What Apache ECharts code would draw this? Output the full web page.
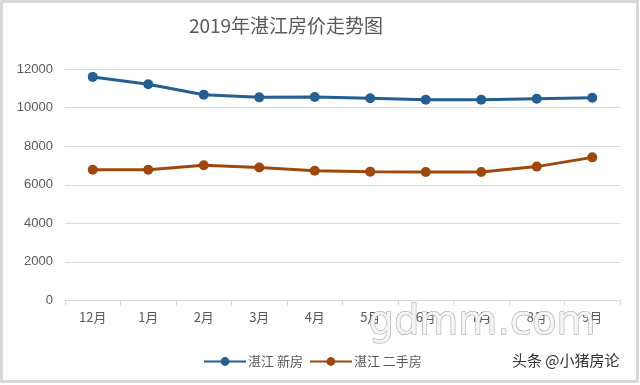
<!DOCTYPE html>
<html><head><meta charset="utf-8">
<script src="https://cdn.jsdelivr.net/npm/echarts@6/dist/echarts.min.js"></script>
<style>html,body{margin:0;padding:0;background:#fff}#c{width:640px;height:385px}</style>
</head><body><div id="c"></div>
<script>
const categories = ['12月','1月','2月','3月','4月','5月','6月','7月','8月','9月'];
const newHouse = [11590, 11210, 10670, 10530, 10550, 10480, 10410, 10410, 10460, 10510];
const resale = [6780, 6780, 7010, 6890, 6730, 6680, 6660, 6660, 6940, 7420];
const seriesNames = ['湛江 新房', '湛江 二手房'];
const yTicks = {min: 0, max: 12000, interval: 2000};

const chart = echarts.init(document.getElementById('c'), null, {renderer: 'canvas'});
const font = '"Noto Sans CJK SC", "Liberation Sans", sans-serif';
chart.setOption({
  animation: false,
  backgroundColor: '#fff',
  title: {
    text: '2019年湛江房价走势图', left: 281, top: 11, textAlign: 'center',
    textStyle: {fontSize: 19, fontWeight: 'normal', color: '#595959', fontFamily: font}
  },
  legend: {
    left: 198, top: 350, itemWidth: 42, itemHeight: 11, itemGap: 6,
    textStyle: {fontSize: 13, color: '#595959', fontFamily: font, padding: [0, 0, 0, -3]},
    data: seriesNames
  },
  grid: {left: 65, right: 20, top: 69, bottom: 84.5},
  xAxis: {
    type: 'category', data: categories, boundaryGap: true,
    axisLine: {lineStyle: {color: '#d9d9d9'}},
    axisTick: {show: true, length: 5, lineStyle: {color: '#d9d9d9'}},
    axisLabel: {color: '#595959', fontSize: 13, margin: 10, fontFamily: font}
  },
  yAxis: {
    type: 'value', min: yTicks.min, max: yTicks.max, interval: yTicks.interval,
    axisLine: {show: false}, axisTick: {show: false},
    splitLine: {lineStyle: {color: '#d9d9d9'}},
    axisLabel: {color: '#595959', fontSize: 13, margin: 12, fontFamily: '"Liberation Sans", sans-serif',
                formatter: v => String(v)}
  },
  series: [
    {name: seriesNames[0], type: 'line', data: newHouse, symbol: 'circle', symbolSize: 10,
     lineStyle: {width: 3, color: '#255E91'}, itemStyle: {color: '#255E91'}},
    {name: seriesNames[1], type: 'line', data: resale, symbol: 'circle', symbolSize: 10,
     lineStyle: {width: 3, color: '#9E480E'}, itemStyle: {color: '#9E480E'}}
  ],
  graphic: [
    {type: 'rect', shape: {x: 1.5, y: 1.5, width: 636, height: 380}, style: {fill: null, stroke: '#d9d9d9', lineWidth: 3}, z: 100},
    {type: 'text', left: 368, top: 303, z: 100,
     style: {text: 'gdmm.com', font: '40px "DejaVu Sans", sans-serif', fill: '#f4f4f4', stroke: '#9a9a9a', lineWidth: 1,
             shadowColor: 'rgba(0,0,0,0.35)', shadowBlur: 2, shadowOffsetX: 1, shadowOffsetY: 1}},
    {type: 'text', left: 512, top: 353, z: 100,
     style: {text: '头条 @小猪房论', font: '15px "Noto Sans CJK SC", sans-serif', fill: '#333'}}
  ]
});
</script></body></html>
